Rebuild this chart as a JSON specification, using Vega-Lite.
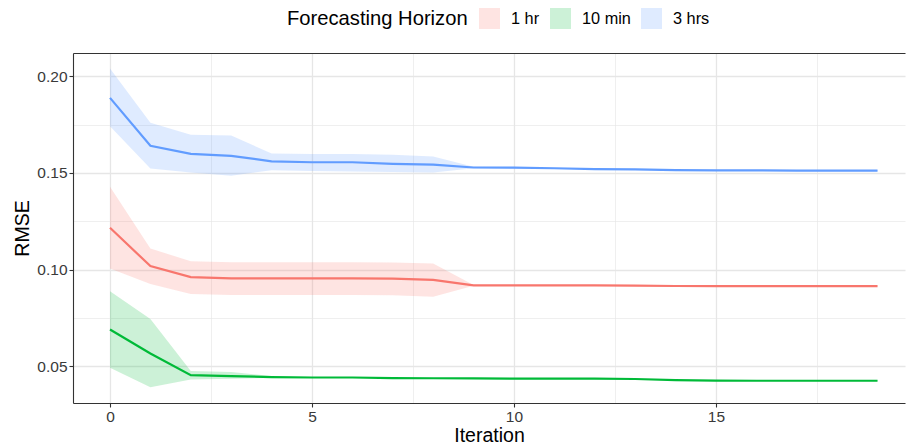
{
  "$schema": "https://vega.github.io/schema/vega-lite/v6.json",
  "autosize": "none",
  "width": 832,
  "height": 350,
  "padding": {"left": 73, "top": 53, "right": 1, "bottom": 43},
  "background": "white",
  "config": {
    "font": "Liberation Sans",
    "view": {"stroke": null},
    "axis": {
      "labelFont": "Liberation Sans",
      "titleFont": "Liberation Sans",
      "labelFontSize": 15.5,
      "titleFontSize": 19.5,
      "titleFontWeight": "normal",
      "labelColor": "#3A3A3A",
      "titleColor": "#000000",
      "domainColor": "#333333",
      "domainWidth": 1.1,
      "tickColor": "#333333",
      "tickWidth": 1.1,
      "tickSize": 4,
      "labelPadding": 2,
      "gridColor": "#E6E6E6"
    },
    "legend": {
      "labelFont": "Liberation Sans",
      "titleFont": "Liberation Sans"
    }
  },
  "data": {
    "values": [
      {"horizon": "3 hrs", "iter": 0, "rmse": 0.1888, "lo": 0.1741, "hi": 0.2040},
      {"horizon": "3 hrs", "iter": 1, "rmse": 0.1640, "lo": 0.1523, "hi": 0.1759},
      {"horizon": "3 hrs", "iter": 2, "rmse": 0.1598, "lo": 0.1502, "hi": 0.1697},
      {"horizon": "3 hrs", "iter": 3, "rmse": 0.1588, "lo": 0.1485, "hi": 0.1693},
      {"horizon": "3 hrs", "iter": 4, "rmse": 0.1560, "lo": 0.1514, "hi": 0.1600},
      {"horizon": "3 hrs", "iter": 5, "rmse": 0.1555, "lo": 0.1510, "hi": 0.1598},
      {"horizon": "3 hrs", "iter": 6, "rmse": 0.1555, "lo": 0.1507, "hi": 0.1598},
      {"horizon": "3 hrs", "iter": 7, "rmse": 0.1547, "lo": 0.1505, "hi": 0.1594},
      {"horizon": "3 hrs", "iter": 8, "rmse": 0.1543, "lo": 0.1502, "hi": 0.1585},
      {"horizon": "3 hrs", "iter": 9, "rmse": 0.1528, "lo": 0.1524, "hi": 0.1532},
      {"horizon": "3 hrs", "iter": 10, "rmse": 0.1527, "lo": 0.1524, "hi": 0.1530},
      {"horizon": "3 hrs", "iter": 11, "rmse": 0.1524, "lo": 0.1521, "hi": 0.1527},
      {"horizon": "3 hrs", "iter": 12, "rmse": 0.1519, "lo": 0.1517, "hi": 0.1521},
      {"horizon": "3 hrs", "iter": 13, "rmse": 0.1518, "lo": 0.1516, "hi": 0.1520},
      {"horizon": "3 hrs", "iter": 14, "rmse": 0.1514, "lo": 0.1512, "hi": 0.1516},
      {"horizon": "3 hrs", "iter": 15, "rmse": 0.1513, "lo": 0.1511, "hi": 0.1515},
      {"horizon": "3 hrs", "iter": 16, "rmse": 0.1513, "lo": 0.1511, "hi": 0.1515},
      {"horizon": "3 hrs", "iter": 17, "rmse": 0.1512, "lo": 0.1510, "hi": 0.1514},
      {"horizon": "3 hrs", "iter": 18, "rmse": 0.1512, "lo": 0.1510, "hi": 0.1514},
      {"horizon": "3 hrs", "iter": 19, "rmse": 0.1512, "lo": 0.1510, "hi": 0.1514},
      {"horizon": "1 hr", "iter": 0, "rmse": 0.1216, "lo": 0.1006, "hi": 0.1428},
      {"horizon": "1 hr", "iter": 1, "rmse": 0.1018, "lo": 0.0925, "hi": 0.1109},
      {"horizon": "1 hr", "iter": 2, "rmse": 0.0961, "lo": 0.0874, "hi": 0.1043},
      {"horizon": "1 hr", "iter": 3, "rmse": 0.0954, "lo": 0.0868, "hi": 0.1038},
      {"horizon": "1 hr", "iter": 4, "rmse": 0.0954, "lo": 0.0868, "hi": 0.1038},
      {"horizon": "1 hr", "iter": 5, "rmse": 0.0954, "lo": 0.0868, "hi": 0.1038},
      {"horizon": "1 hr", "iter": 6, "rmse": 0.0954, "lo": 0.0868, "hi": 0.1038},
      {"horizon": "1 hr", "iter": 7, "rmse": 0.0953, "lo": 0.0867, "hi": 0.1037},
      {"horizon": "1 hr", "iter": 8, "rmse": 0.0947, "lo": 0.0859, "hi": 0.1032},
      {"horizon": "1 hr", "iter": 9, "rmse": 0.0918, "lo": 0.0916, "hi": 0.0920},
      {"horizon": "1 hr", "iter": 10, "rmse": 0.0918, "lo": 0.0916, "hi": 0.0920},
      {"horizon": "1 hr", "iter": 11, "rmse": 0.0918, "lo": 0.0916, "hi": 0.0920},
      {"horizon": "1 hr", "iter": 12, "rmse": 0.0918, "lo": 0.0916, "hi": 0.0920},
      {"horizon": "1 hr", "iter": 13, "rmse": 0.0917, "lo": 0.0915, "hi": 0.0919},
      {"horizon": "1 hr", "iter": 14, "rmse": 0.0915, "lo": 0.0913, "hi": 0.0917},
      {"horizon": "1 hr", "iter": 15, "rmse": 0.0914, "lo": 0.0912, "hi": 0.0916},
      {"horizon": "1 hr", "iter": 16, "rmse": 0.0914, "lo": 0.0912, "hi": 0.0916},
      {"horizon": "1 hr", "iter": 17, "rmse": 0.0914, "lo": 0.0912, "hi": 0.0916},
      {"horizon": "1 hr", "iter": 18, "rmse": 0.0914, "lo": 0.0912, "hi": 0.0916},
      {"horizon": "1 hr", "iter": 19, "rmse": 0.0914, "lo": 0.0912, "hi": 0.0916},
      {"horizon": "10 min", "iter": 0, "rmse": 0.0690, "lo": 0.0492, "hi": 0.0888},
      {"horizon": "10 min", "iter": 1, "rmse": 0.0566, "lo": 0.0391, "hi": 0.0744},
      {"horizon": "10 min", "iter": 2, "rmse": 0.0454, "lo": 0.0432, "hi": 0.0476},
      {"horizon": "10 min", "iter": 3, "rmse": 0.0449, "lo": 0.0436, "hi": 0.0470},
      {"horizon": "10 min", "iter": 4, "rmse": 0.0444, "lo": 0.0439, "hi": 0.0450},
      {"horizon": "10 min", "iter": 5, "rmse": 0.0442, "lo": 0.0439, "hi": 0.0445},
      {"horizon": "10 min", "iter": 6, "rmse": 0.0442, "lo": 0.0440, "hi": 0.0444},
      {"horizon": "10 min", "iter": 7, "rmse": 0.0439, "lo": 0.0437, "hi": 0.0441},
      {"horizon": "10 min", "iter": 8, "rmse": 0.0438, "lo": 0.0437, "hi": 0.0439},
      {"horizon": "10 min", "iter": 9, "rmse": 0.0437, "lo": 0.0436, "hi": 0.0438},
      {"horizon": "10 min", "iter": 10, "rmse": 0.0436, "lo": 0.0435, "hi": 0.0437},
      {"horizon": "10 min", "iter": 11, "rmse": 0.0436, "lo": 0.0435, "hi": 0.0437},
      {"horizon": "10 min", "iter": 12, "rmse": 0.0436, "lo": 0.0435, "hi": 0.0437},
      {"horizon": "10 min", "iter": 13, "rmse": 0.0434, "lo": 0.0433, "hi": 0.0435},
      {"horizon": "10 min", "iter": 14, "rmse": 0.0428, "lo": 0.0427, "hi": 0.0429},
      {"horizon": "10 min", "iter": 15, "rmse": 0.0426, "lo": 0.0425, "hi": 0.0427},
      {"horizon": "10 min", "iter": 16, "rmse": 0.0425, "lo": 0.0424, "hi": 0.0426},
      {"horizon": "10 min", "iter": 17, "rmse": 0.0425, "lo": 0.0424, "hi": 0.0426},
      {"horizon": "10 min", "iter": 18, "rmse": 0.0425, "lo": 0.0424, "hi": 0.0426},
      {"horizon": "10 min", "iter": 19, "rmse": 0.0425, "lo": 0.0424, "hi": 0.0426}
    ]
  },
  "resolve": {"axis": {"x": "independent"}},
  "layer": [
    {
      "mark": {"type": "area", "opacity": 0.2, "interpolate": "linear"},
      "encoding": {
        "x": {
          "field": "iter", "type": "quantitative",
          "scale": {"domain": [-0.916, 19.68], "nice": false, "zero": false},
          "axis": {
            "title": "Iteration",
            "values": [0, 2.5, 5, 7.5, 10, 12.5, 15, 17.5],
            "labelExpr": "datum.value % 5 === 0 ? datum.label : ''",
            "format": "d",
            "labelFlush": false,
            "labelOverlap": false,
            "grid": true,
            "gridWidth": {"condition": {"test": "datum.value % 5 === 0", "value": 1.3}, "value": 0.65},
            "tickOpacity": {"condition": {"test": "datum.value % 5 === 0", "value": 1}, "value": 0},
            "titlePadding": 2
          }
        },
        "y": {
          "field": "lo", "type": "quantitative",
          "scale": {"domain": [0.031, 0.212], "nice": false, "zero": false},
          "axis": {
            "title": "RMSE",
            "values": [0.05, 0.075, 0.1, 0.125, 0.15, 0.175, 0.2],
            "labelExpr": "round(datum.value * 1000) % 50 === 0 ? format(datum.value, '.2f') : ''",
            "labelOverlap": false,
            "labelFlush": false,
            "grid": true,
            "gridWidth": {"condition": {"test": "round(datum.value * 1000) % 50 === 0", "value": 1.3}, "value": 0.65},
            "tickOpacity": {"condition": {"test": "round(datum.value * 1000) % 50 === 0", "value": 1}, "value": 0},
            "titlePadding": 4
          }
        },
        "y2": {"field": "hi"},
        "color": {
          "field": "horizon", "type": "nominal",
          "scale": {"domain": ["1 hr", "10 min", "3 hrs"], "range": ["#F8766D", "#00BA38", "#619CFF"]},
          "legend": {
            "title": "Forecasting Horizon",
            "orient": "none",
            "legendX": 214,
            "legendY": -45,
            "direction": "horizontal",
            "titleOrient": "left",
            "titleFontSize": 20.2,
            "titleFontWeight": "normal",
            "titleColor": "#000000",
            "titleLimit": 400,
            "titlePadding": 11,
            "titleBaseline": "middle",
            "labelFontSize": 16.3,
            "labelColor": "#000000",
            "labelOffset": 11,
            "columnPadding": 10,
            "symbolType": "square",
            "symbolSize": 441,
            "symbolOpacity": 0.2,
            "symbolStrokeWidth": 0
          }
        }
      }
    },
    {
      "mark": {"type": "line", "strokeWidth": 2.2},
      "encoding": {
        "x": {
          "field": "iter", "type": "quantitative",
          "axis": {"orient": "top", "labels": false, "ticks": false, "grid": false, "title": null, "domain": true}
        },
        "y": {"field": "rmse", "type": "quantitative"},
        "color": {"field": "horizon", "type": "nominal", "legend": null}
      }
    }
  ]
}
